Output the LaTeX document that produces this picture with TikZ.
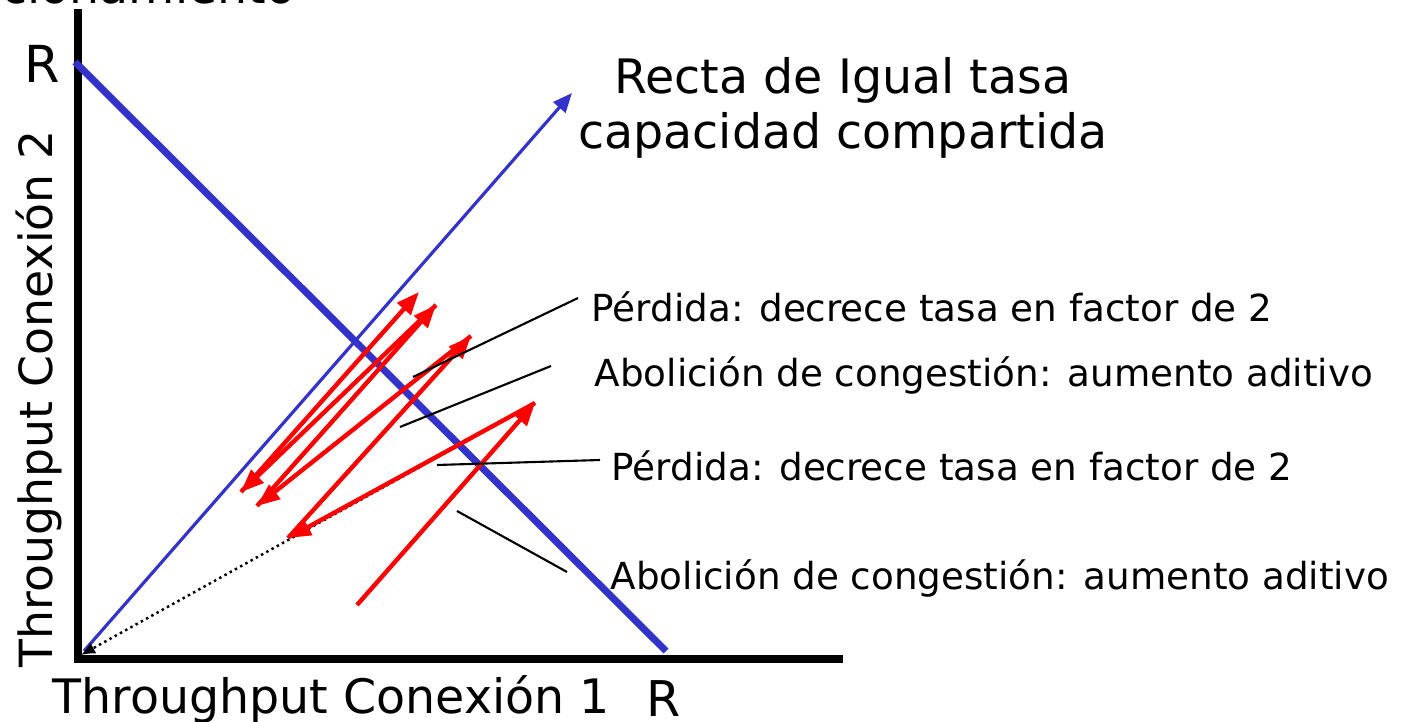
\documentclass[tikz,border=0pt]{standalone}
\usepackage{fontspec}
\setmainfont{DejaVu Sans}
\usetikzlibrary{arrows.meta}
\definecolor{rectablue}{RGB}{51,51,204}

\begin{document}
\begin{tikzpicture}[x=0.01cm,y=-0.01cm,every node/.style={inner sep=0pt},
    axis/.style={line width=2pt,line join=miter},
    big/.style={font=\fontsize{13.5}{15.6}\selectfont},
    lbl/.style={anchor=base west,font=\fontsize{10.6}{12}\selectfont},
    aimd/.style={red,line width=1.25pt,-{Triangle[length=6.5pt,width=5pt]}},
    leader/.style={line width=0.6pt}]
  \useasboundingbox (0,0) rectangle (1403,722);
  \clip (0,0) rectangle (1403,722);

  \coordinate (O) at (78,659);
  \coordinate (YTOP) at (78,9);
  \coordinate (XEND) at (843,659);
  \coordinate (RY) at (75,62);
  \coordinate (RX) at (666,651);
  \coordinate (EQ0) at (84,651);
  \coordinate (EQ1) at (572,93);
  \coordinate (OD) at (81,655);
  \coordinate (A0) at (357,605);
  \coordinate (A1) at (535,403);
  \coordinate (A2) at (288,538);
  \coordinate (A3) at (471,336);
  \coordinate (A4) at (257,506);
  \coordinate (A5) at (436,305);
  \coordinate (A6) at (241,492);
  \coordinate (A7) at (419,292);

  \node[big,anchor=base east] (TOP) at (296,4) {funcionamiento};
  \node[font=\fontsize{14.5}{16}\selectfont,anchor=base] (RLEFT) at (42,83) {R};
  \node[font=\fontsize{14}{16}\selectfont,anchor=base] (RBOT) at (664,716) {R};
  \node[big,anchor=base west] (XLABEL) at (52,714) {Throughput Conexión 1};
  \node[font=\fontsize{13}{15}\selectfont,anchor=base west,rotate=90] (YLABEL) at (52,668) {Throughput Conexión 2};
  \node[big,align=center] (RECTA) at (843,108) {Recta de Igual tasa\\capacidad compartida};

  \node[lbl] (PERD1) at (591,322) {Pérdida: decrece tasa en factor de 2};
  \node[lbl] (ABOL1) at (594,387) {Abolición de congestión: aumento aditivo};
  \node[lbl] (PERD2) at (611,481) {Pérdida: decrece tasa en factor de 2};
  \node[lbl] (ABOL2) at (610,590) {Abolición de congestión: aumento aditivo};

  \coordinate (L1A) at (413,377); \coordinate (L1B) at (578,298);
  \coordinate (L2A) at (400,427); \coordinate (L2B) at (551,366);
  \coordinate (L3A) at (437,465); \coordinate (L3B) at (600,460);
  \coordinate (L4A) at (457,511); \coordinate (L4B) at (567,572);

  \draw[axis] (YTOP) -- (O) -- (XEND);
  \draw[rectablue,line width=2pt] (RY) -- (RX);
  \path[draw,rectablue,line width=0.9pt,-{Triangle[length=5.5pt,width=4.5pt]}] (EQ0) -- (EQ1);
  \path[draw,densely dotted,line width=0.7pt,-{Latex[length=4pt,width=3.5pt]}] (A1) -- (OD);

  \path[aimd,draw] (A0) -- (A1);
  \path[aimd,draw] (A1) -- (A2);
  \path[aimd,draw] (A2) -- (A3);
  \path[aimd,draw] (A3) -- (A4);
  \path[aimd,draw] (A4) -- (A5);
  \path[aimd,draw] (A5) -- (A6);
  \path[aimd,draw] (A6) -- (A7);

  \draw[leader] (L1A) -- (L1B);
  \draw[leader] (L2A) -- (L2B);
  \draw[leader] (L3A) -- (L3B);
  \draw[leader] (L4A) -- (L4B);
\end{tikzpicture}
\end{document}
